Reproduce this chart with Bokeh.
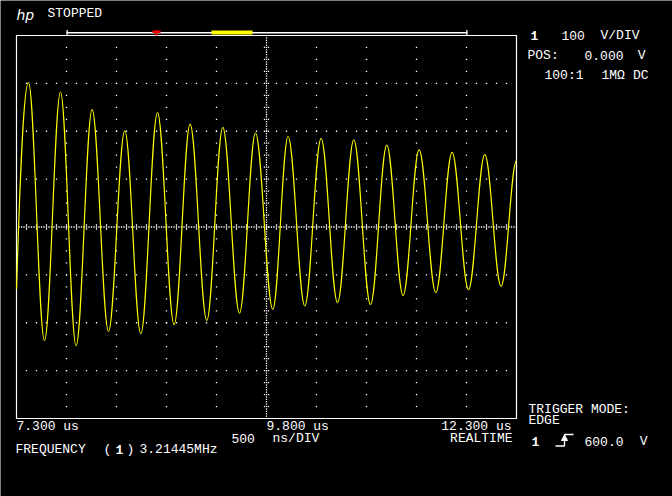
import numpy as np
from bokeh.plotting import figure
from bokeh.models import Range1d, Label
from bokeh.embed import file_html
from bokeh.resources import INLINE

# ---------------- data read from the screen ----------------
# time in microseconds, voltage in volts
t_start, v_start = 7.300, -130
peak_t = [7.420, 7.740, 8.056, 8.383, 8.710, 9.036, 9.363, 9.690,
          10.016, 10.346, 10.673, 11.003, 11.326, 11.656, 11.983]
peak_v = [302, 282, 245, 201, 239, 215, 208, 196,
          189, 185, 182, 171, 161, 156, 151]
trough_t = [7.580, 7.896, 8.220, 8.543, 8.876, 9.203, 9.530, 9.863,
            10.183, 10.510, 10.840, 11.166, 11.493, 11.820, 12.146]
trough_v = [-237, -248, -218, -223, -204, -195, -180, -172,
            -165, -158, -162, -143, -137, -131, -124]
t_end, v_end = 12.300, 138

time_ticks = [7.3, 9.8, 12.3]
time_tick_labels = ["7.300 us", "9.800 us", "12.300 us"]

T0, T1 = 7.3, 12.3          # 500 ns/DIV, 10 divisions
V0, V1 = -400.0, 400.0      # 100 V/DIV, 8 divisions

# ---------------- layout ----------------
W, H = 672, 496
FL, FT, FW, FH = 16, 35, 500, 383   # graticule box in screen pixels


def fx(px):
    return T0 + (px - FL) / FW * (T1 - T0)


def fy(py):
    return V1 - (py - FT) / FH * (V1 - V0)


dx_px = (T1 - T0) / FW
dy_px = (V1 - V0) / FH

# the whole screen is the plot frame; the graticule is the 7.3..12.3 us, -400..400 V box
p = figure(width=W, height=H, x_range=Range1d(fx(0), fx(W)), y_range=Range1d(fy(H), fy(0)),
           output_backend="svg", toolbar_location=None,
           x_axis_type=None, y_axis_type=None,
           min_border_left=0, min_border_top=0, min_border_right=0, min_border_bottom=0)
p.background_fill_color = "black"
p.border_fill_color = "black"
p.outline_line_color = None

# ---------------- graticule dots ----------------
gx, gy = [], []
minor_t = T0 + 0.1 * np.arange(1, 50)
for v in [-300, -200, -100, 100, 200, 300]:
    gx += list(minor_t)
    gy += [v] * len(minor_t)
minor_v = V0 + 25 * np.arange(1, 32)
for t in [7.8, 8.3, 8.8, 9.3, 10.3, 10.8, 11.3, 11.8]:
    gx += [t] * len(minor_v)
    gy += list(minor_v)
# centre horizontal line
ct = T0 + 0.025 * np.arange(1, 200)
gx += list(ct)
gy += [0] * len(ct)
for s in (-2, 2):
    gx += list(minor_t)
    gy += [s * dy_px] * len(minor_t)
# centre vertical line
cv = V0 + 5 * np.arange(1, 160)
gx += [9.8] * len(cv)
gy += list(cv)
for s in (-2, 2):
    gx += [9.8 + s * dx_px] * len(minor_v)
    gy += list(minor_v)

p.scatter(gx, gy, marker="square", size=1.3, fill_color="white", line_color=None)

# graticule border
p.quad(left=[T0], right=[T1], bottom=[V0], top=[V1], fill_color=None,
       line_color="white", line_width=1.2)

# ---------------- trace ----------------
pts_t = [t_start]
pts_v = [v_start]
for a, b, c, d in zip(peak_t, peak_v, trough_t, trough_v):
    pts_t += [a, c]
    pts_v += [b, d]
pts_t.append(t_end)
pts_v.append(v_end)

k = 1 - 2 / np.pi
x0 = np.array(pts_t[:-1]); y0 = np.array(pts_v[:-1])
x1 = np.array(pts_t[1:]); y1 = np.array(pts_v[1:])
dx = x1 - x0
cx0 = x0 + k * dx; cy0 = y0.copy()
cx1 = x1 - k * dx; cy1 = y1.copy()
# first segment starts mid-slope at the left edge
cx0[0] = x0[0] + 0.3 * dx[0]
cy0[0] = y0[0] + 0.55 * (y1[0] - y0[0])
cx1[0] = x1[0] - 0.4 * dx[0]
p.bezier(x0=x0, y0=y0, x1=x1, y1=y1, cx0=cx0, cy0=cy0, cx1=cx1, cy1=cy1,
         line_color="#ffff00", line_width=1.2)

# ---------------- texts ----------------
FONT = "Liberation Mono"


def lab(text, px, py, align="left", bold=False, size="13px", font=FONT, italic=False):
    style = "bold" if bold else ("italic" if italic else "normal")
    p.add_layout(Label(x=fx(px), y=fy(py), text=text, text_align=align,
                       text_baseline="middle", text_color="white",
                       text_font=font, text_font_size=size, text_font_style=style))


lab("hp", 16, 14, font="DejaVu Sans", size="14px", italic=True)
lab("STOPPED", 47, 13)

lab("1", 530, 35, bold=True)
lab("100", 561, 35)
lab("V/DIV", 639, 35, align="right")
lab("POS:", 527, 55)
lab("0.000", 584, 55)
lab("V", 645, 55, align="right")
lab("100:1", 544, 75)
lab("1M\u03a9", 601, 75)
lab("DC", 648, 75, align="right")

aligns = ["left", "left", "right"]
offsets = [0, 0, -5]
for t, s, a, o in zip(time_ticks, time_tick_labels, aligns, offsets):
    px = FL + (t - T0) / (T1 - T0) * FW + o
    lab(s, px, 426, align=a)

lab("500", 231, 437.5)
lab("ns/DIV", 272, 437.5)
lab("REALTIME", 512, 437.5, align="right")

lab("FREQUENCY", 15, 449)
lab("(", 103, 449)
lab("1", 115, 449, bold=True)
lab(")", 126, 449)
lab("3.21445MHz", 139, 449)

lab("TRIGGER MODE:", 528, 409)
lab("EDGE", 528, 420)
lab("1", 531, 441, bold=True)
lab("600.0", 584, 441)
lab("V", 647, 441, align="right")

# trigger edge symbol (rising edge with arrow)
sx = [555, 564, 564, 573]
sy = [445.5, 445.5, 434, 434]
p.line([fx(v) for v in sx], [fy(v) for v in sy], line_color="white", line_width=1.3)
p.patch([fx(564), fx(561), fx(567)], [fy(434.5), fy(440), fy(440)],
        fill_color="white", line_color="white", line_width=1)


# ---------------- memory bar above graticule ----------------
def box(l, r, t, b, color):
    p.quad(left=[fx(l)], right=[fx(r)], top=[fy(t)], bottom=[fy(b)],
           fill_color=color, line_color=None)


box(66, 467, 31.5, 33, "white")
box(66, 67.3, 29.5, 35, "white")
box(465.7, 467, 29.5, 35, "white")
box(211, 252, 30, 34, "#ffff00")
box(152, 160, 30, 32.5, "#ff0000")
box(155, 157, 30, 35, "#ff0000")

open("out.html", "w").write(file_html(p, INLINE))
